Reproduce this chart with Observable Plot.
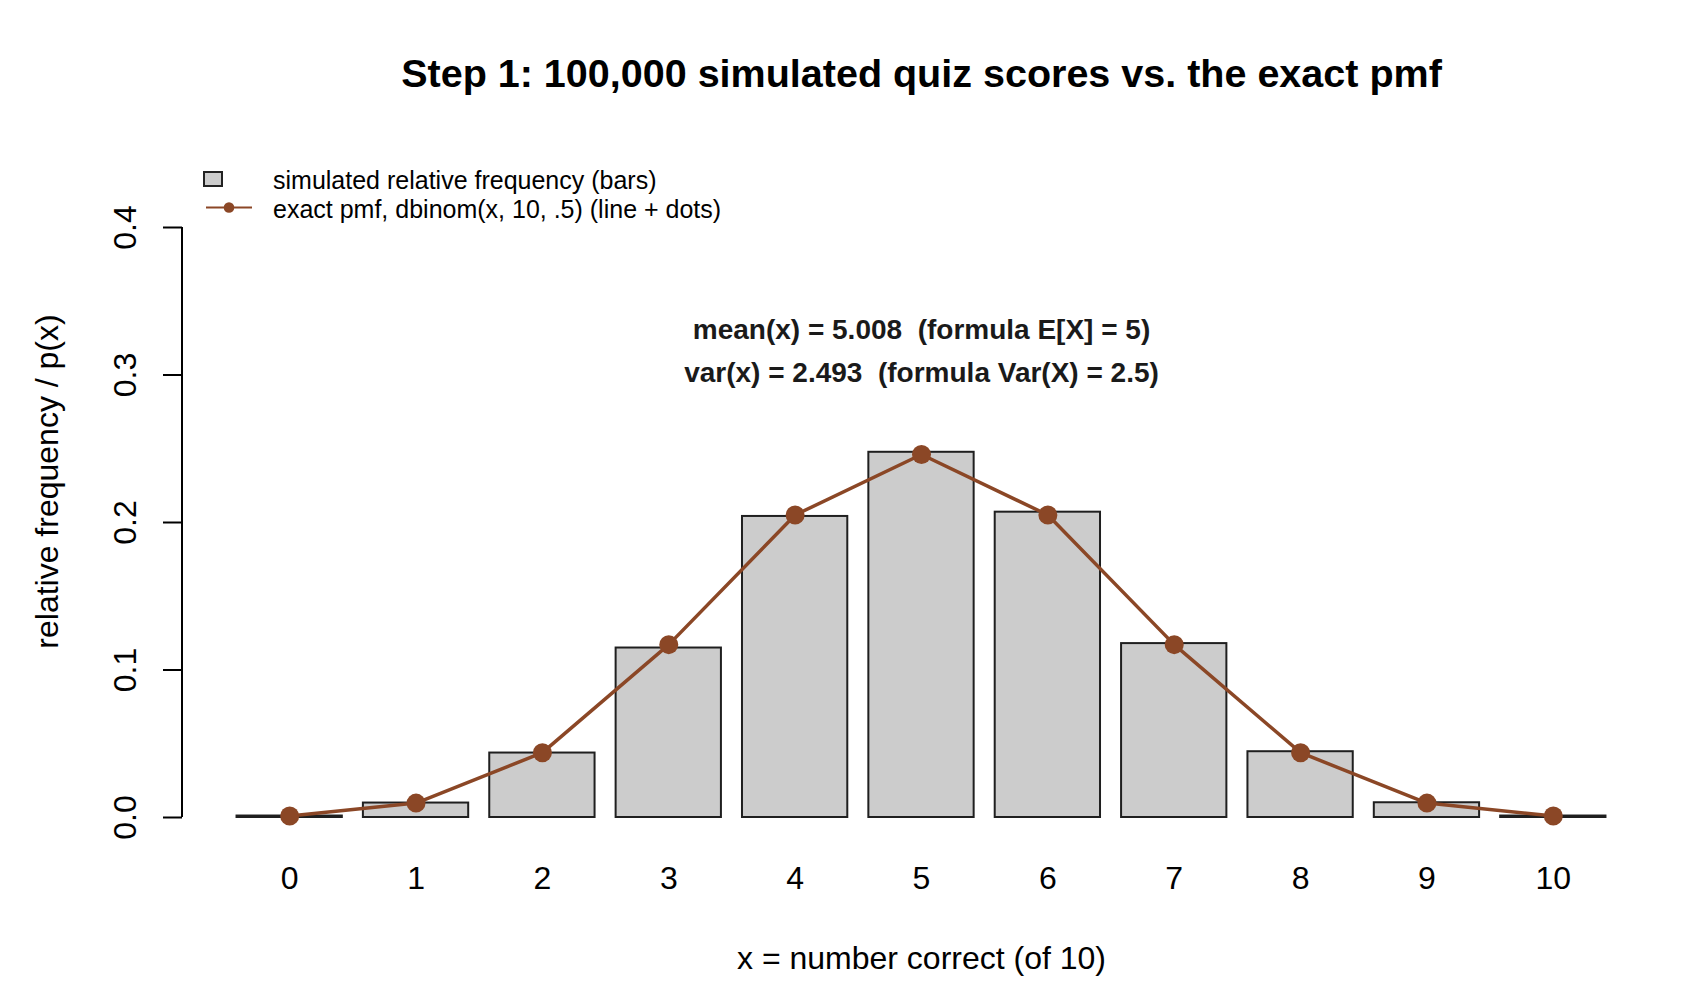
<!DOCTYPE html>
<html>
<head>
<meta charset="utf-8">
<script src="https://cdn.jsdelivr.net/npm/d3@7"></script>
<script src="https://cdn.jsdelivr.net/npm/@observablehq/plot@0.6"></script>
<style>
  html, body { margin: 0; padding: 0; background: #ffffff; }
  #chart svg { display: block; }
</style>
</head>
<body>
<div id="chart"></div>
<script>
// ---- data ----
const scores = [0, 1, 2, 3, 4, 5, 6, 7, 8, 9, 10];
const simFreq = [0.0010, 0.0098, 0.0437, 0.1149, 0.2041, 0.2476, 0.2070, 0.1179, 0.0446, 0.0100, 0.0010];
const pmf = [0.000977, 0.009766, 0.043945, 0.117188, 0.205078, 0.246094, 0.205078, 0.117188, 0.043945, 0.009766, 0.000977];
const yTicks = [0, 0.1, 0.2, 0.3, 0.4];
const titleText = "Step 1: 100,000 simulated quiz scores vs. the exact pmf";
const xTitle = "x = number correct (of 10)";
const yTitle = "relative frequency / p(x)";
const statLines = ["mean(x) = 5.008  (formula E[X] = 5)", "var(x) = 2.493  (formula Var(X) = 2.5)"];
const legendLabels = ["simulated relative frequency (bars)", "exact pmf, dbinom(x, 10, .5) (line + dots)"];

const table = scores.map((s, i) => ({score: s, sim: simFreq[i], pmf: pmf[i]}));

const FONT = "'Liberation Sans', Arial, Helvetica, sans-serif";
const BROWN = "#8B4726";

// axis line along the y ticks (drawn through the y scale)
function yAxisLine(index, scales, values, dims) {
  const g = d3.create("svg:g");
  g.append("line")
    .attr("x1", dims.marginLeft - 44).attr("x2", dims.marginLeft - 44)
    .attr("y1", scales.y(yTicks[0])).attr("y2", scales.y(yTicks[yTicks.length - 1]))
    .attr("stroke", "#000").attr("stroke-width", 2);
  return g.node();
}

// legend (top-left, above the frame)
function legend(index, scales, values, dims) {
  const g = d3.create("svg:g")
    .attr("font-family", FONT).attr("font-size", 25).attr("fill", "#000")
    .attr("text-anchor", "start");
  const x0 = dims.marginLeft;
  const y0 = dims.marginTop;
  g.append("rect").attr("x", x0 - 22).attr("y", y0 - 55).attr("width", 18).attr("height", 14)
    .attr("fill", "#cccccc").attr("stroke", "#222").attr("stroke-width", 2);
  g.append("line").attr("x1", x0 - 20).attr("x2", x0 + 26).attr("y1", y0 - 19.5).attr("y2", y0 - 19.5)
    .attr("stroke", BROWN).attr("stroke-width", 2);
  g.append("circle").attr("cx", x0 + 3).attr("cy", y0 - 19.5).attr("r", 5.3).attr("fill", BROWN);
  g.append("text").attr("x", x0 + 47).attr("y", y0 - 38).attr("text-anchor", "start").text(legendLabels[0]);
  g.append("text").attr("x", x0 + 47).attr("y", y0 - 9).attr("text-anchor", "start").text(legendLabels[1]);
  return g.node();
}

const chart = Plot.plot({
  width: 1700,
  height: 1000,
  marginTop: 227,
  marginBottom: 183,
  marginLeft: 226,
  marginRight: 84,
  style: {fontFamily: FONT, background: "#ffffff", color: "#000"},
  x: {type: "band", domain: scores, paddingInner: 1 / 6, paddingOuter: 1 / 12, round: false},
  y: {type: "linear", domain: [0, 0.4]},
  marks: [
    Plot.barY(table, {x: "score", y: "sim", fill: "#cccccc", stroke: "#1f1f1f", strokeWidth: 2}),
    Plot.line(table, {x: "score", y: "pmf", stroke: BROWN, strokeWidth: 3.5}),
    Plot.dot(table, {x: "score", y: "pmf", r: 9.5, fill: BROWN, stroke: "none"}),
    Plot.axisX({tickSize: 0, tickPadding: 49, fontSize: 32, label: null}),
    Plot.axisY({ticks: yTicks, tickSize: 19, tickFormat: () => "", dx: -44, strokeWidth: 2, label: null}),
    yAxisLine,
    Plot.text(yTicks, {y: d => d, text: d => d3.format(".1f")(d), frameAnchor: "left", dx: -91,
      rotate: -90, textAnchor: "middle", lineAnchor: "bottom", fontSize: 32}),
    Plot.text([yTitle], {text: d => d, frameAnchor: "left", dx: -169, dy: -41, rotate: -90,
      textAnchor: "middle", lineAnchor: "bottom", fontSize: 32}),
    Plot.text([xTitle], {text: d => d, frameAnchor: "bottom", dy: 151, lineAnchor: "bottom", fontSize: 32}),
    Plot.text([titleText], {text: d => d, frameAnchor: "top", dy: -141, lineAnchor: "bottom",
      fontSize: 39.5, fontWeight: "bold"}),
    Plot.text([statLines[0]], {text: d => d, frameAnchor: "top", dy: 111, lineAnchor: "bottom",
      fontSize: 28, fontWeight: "bold", fill: "#1a1a1a"}),
    Plot.text([statLines[1]], {text: d => d, frameAnchor: "top", dy: 154, lineAnchor: "bottom",
      fontSize: 28, fontWeight: "bold", fill: "#1a1a1a"}),
    legend
  ]
});

document.getElementById("chart").appendChild(chart);
</script>
</body>
</html>
